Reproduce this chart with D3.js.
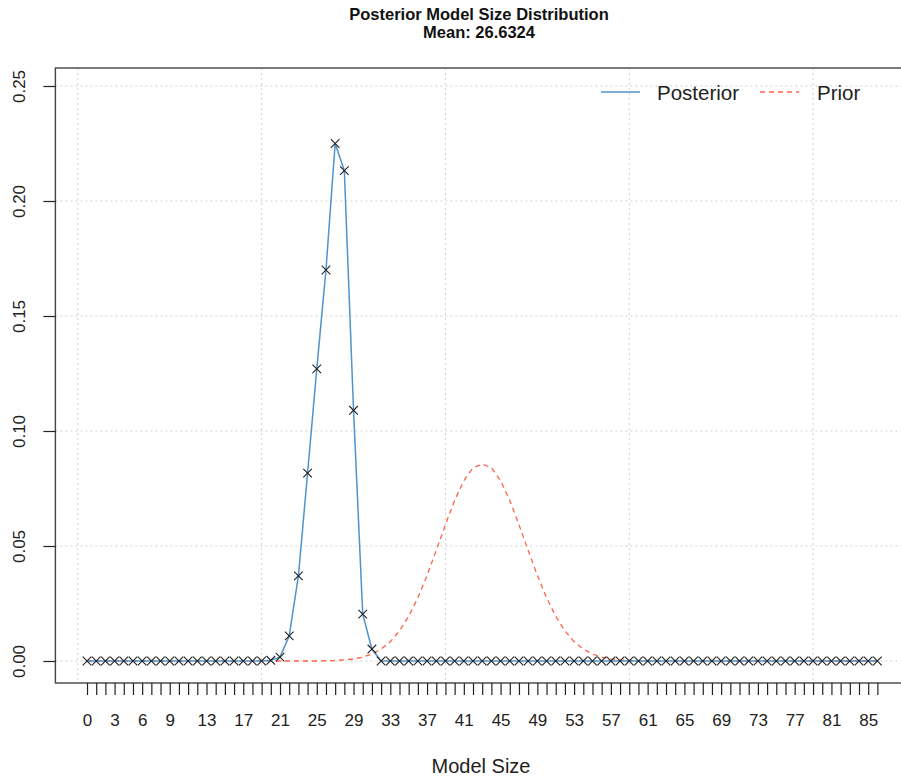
<!DOCTYPE html>
<html>
<head>
<meta charset="utf-8">
<script src="https://cdn.jsdelivr.net/npm/d3@7"></script>
<style>
  body { margin: 0; background: #fff; }
  svg { font-family: "Liberation Sans", Arial, sans-serif; display: block; }
</style>
</head>
<body>
<div id="chart"></div>
<script>
// data
var modelSizes = d3.range(0, 87);
var posterior = [
  0, 0, 0, 0, 0, 0, 0, 0, 0, 0,
  0, 0, 0, 0, 0, 0, 0, 0, 0, 0,
  0.0003, 0.0017, 0.0109, 0.0370, 0.0817, 0.1270, 0.1700, 0.2250, 0.2132, 0.1090,
  0.0204, 0.0052, 0, 0, 0, 0, 0, 0, 0, 0,
  0, 0, 0, 0, 0, 0, 0, 0, 0, 0,
  0, 0, 0, 0, 0, 0, 0, 0, 0, 0,
  0, 0, 0, 0, 0, 0, 0, 0, 0, 0,
  0, 0, 0, 0, 0, 0, 0, 0, 0, 0,
  0, 0, 0, 0, 0, 0, 0
];
var prior = [
  0, 0, 0, 0, 0, 0, 0, 0, 0, 0,
  0, 0, 0, 0, 0, 0, 0, 0, 0, 0,
  0, 0, 0, 0, 0, 0, 0.0001, 0.0002, 0.0005, 0.0009,
  0.0017, 0.0030, 0.0052, 0.0084, 0.0131, 0.0194, 0.0275, 0.0372, 0.0481, 0.0593,
  0.0698, 0.0784, 0.0840, 0.0856, 0.0840, 0.0784, 0.0698, 0.0593, 0.0481, 0.0372,
  0.0275, 0.0194, 0.0131, 0.0084, 0.0052, 0.0030, 0.0017, 0.0009, 0.0005, 0.0002,
  0.0001, 0, 0, 0, 0, 0, 0, 0, 0, 0,
  0, 0, 0, 0, 0, 0, 0, 0, 0, 0,
  0, 0, 0, 0, 0, 0, 0
];
var xLabels = [0, 3, 6, 9, 13, 17, 21, 25, 29, 33, 37, 41, 45, 49, 53, 57, 61, 65, 69, 73, 77, 81, 85];
var yTicks = [0, 0.05, 0.10, 0.15, 0.20, 0.25];
var xGrid = [-1, 19, 39, 59, 79];
var seriesNames = ["Posterior", "Prior"];
var meanSize = 26.6324;

var width = 901, height = 780;
var box = {left: 55.4, right: 909, top: 68, bottom: 683};
var blue = "#4f94cd", red = "#ff6347";

var svg = d3.select("#chart")
  .append("svg")
    .attr("width", width)
    .attr("height", height);

var x = d3.scaleLinear()
    .domain([-3.44, 89.44])
    .range([box.left, box.right]);

var y = d3.scaleLinear()
    .domain([0, 0.25])
    .range([661, 86]);

// grid
svg.append("g").selectAll("line")
    .data(xGrid)
    .enter().append("line")
      .attr("x1", function(d) { return x(d); })
      .attr("x2", function(d) { return x(d); })
      .attr("y1", box.top)
      .attr("y2", box.bottom)
      .attr("stroke", "#d0d0d0")
      .attr("stroke-dasharray", "2,3");

svg.append("g").selectAll("line")
    .data(yTicks)
    .enter().append("line")
      .attr("x1", box.left)
      .attr("x2", box.right)
      .attr("y1", function(d) { return y(d); })
      .attr("y2", function(d) { return y(d); })
      .attr("stroke", "#d0d0d0")
      .attr("stroke-dasharray", "2,3");

// lines
var line = d3.line()
    .x(function(d, i) { return x(modelSizes[i]); })
    .y(function(d) { return y(d); });

svg.append("path")
    .datum(prior)
    .attr("d", line)
    .attr("fill", "none")
    .attr("stroke", red)
    .attr("stroke-width", 1.3)
    .attr("stroke-dasharray", "5,4");

svg.append("path")
    .datum(posterior)
    .attr("d", line)
    .attr("fill", "none")
    .attr("stroke", blue)
    .attr("stroke-width", 1.5);

// x markers
svg.append("g").selectAll("path")
    .data(posterior)
    .enter().append("path")
      .attr("transform", function(d, i) { return "translate(" + x(modelSizes[i]) + "," + y(d) + ")"; })
      .attr("d", "M-4.3,-4.3L4.3,4.3M-4.3,4.3L4.3,-4.3")
      .attr("stroke", "#222")
      .attr("stroke-width", 1.1);

// box
svg.append("rect")
    .attr("x", box.left)
    .attr("y", box.top)
    .attr("width", box.right - box.left)
    .attr("height", box.bottom - box.top)
    .attr("fill", "none")
    .attr("stroke", "#444")
    .attr("stroke-width", 1.4);

// x axis
var xAxis = svg.append("g")
    .attr("transform", "translate(0," + box.bottom + ")")
    .call(d3.axisBottom(x)
      .tickValues(modelSizes)
      .tickSize(12)
      .tickFormat(function(d) { return xLabels.indexOf(d) >= 0 ? d : ""; }));
xAxis.select(".domain").remove();
xAxis.selectAll(".tick line").attr("stroke", "#222").attr("stroke-width", 1.2);
xAxis.selectAll(".tick text")
    .attr("y", 31)
    .attr("dy", 12)
    .attr("fill", "#222")
    .style("font-size", "17px");

// y axis
var yAxis = svg.append("g")
    .attr("transform", "translate(" + box.left + ",0)")
    .call(d3.axisLeft(y)
      .tickValues(yTicks)
      .tickSize(12)
      .tickFormat(d3.format(".2f")));
yAxis.select(".domain").remove();
yAxis.selectAll(".tick line").attr("stroke", "#222").attr("stroke-width", 1.2);
yAxis.selectAll(".tick text")
    .attr("x", null)
    .attr("dy", null)
    .attr("transform", "translate(-30,0) rotate(-90)")
    .attr("text-anchor", "middle")
    .attr("fill", "#222")
    .style("font-size", "17px");

// titles
svg.append("text")
    .attr("x", 479)
    .attr("y", 20)
    .attr("text-anchor", "middle")
    .style("font-size", "16.5px")
    .style("font-weight", "bold")
    .attr("fill", "#111")
    .text("Posterior Model  Size Distribution");

svg.append("text")
    .attr("x", 479)
    .attr("y", 38)
    .attr("text-anchor", "middle")
    .style("font-size", "16.5px")
    .style("font-weight", "bold")
    .attr("fill", "#111")
    .text("Mean: " + meanSize);

svg.append("text")
    .attr("x", 481)
    .attr("y", 773)
    .attr("text-anchor", "middle")
    .style("font-size", "20px")
    .attr("fill", "#222")
    .text("Model Size");

// legend
var legend = svg.append("g");
var legendX = [601, 760];
var legendText = [657, 817];
legend.selectAll("line")
    .data(seriesNames)
    .enter().append("line")
      .attr("x1", function(d, i) { return legendX[i]; })
      .attr("x2", function(d, i) { return legendX[i] + 39; })
      .attr("y1", 92)
      .attr("y2", 92)
      .attr("stroke", function(d, i) { return i === 0 ? blue : red; })
      .attr("stroke-width", 1.4)
      .attr("stroke-dasharray", function(d, i) { return i === 0 ? null : "5,4"; });
legend.selectAll("text")
    .data(seriesNames)
    .enter().append("text")
      .attr("x", function(d, i) { return legendText[i]; })
      .attr("y", 100)
      .style("font-size", "20.5px")
      .attr("fill", "#222")
      .text(function(d) { return d; });
</script>
</body>
</html>
